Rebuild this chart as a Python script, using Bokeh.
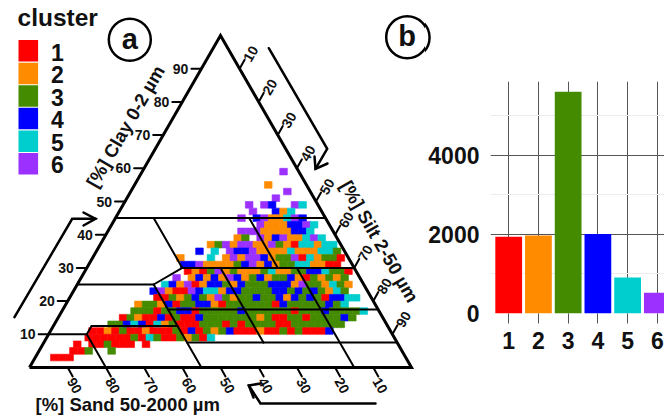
from bokeh.plotting import figure
from bokeh.layouts import row
from bokeh.models import Range1d, ColumnDataSource, FixedTicker, Label
from bokeh.core.properties import value
from bokeh.embed import file_html
from bokeh.resources import INLINE

FONT = "Liberation Sans"
clusters = [1, 2, 3, 4, 5, 6]
cluster_colors = ["#FF0000", "#FF8C00", "#458B00", "#0000FF", "#00CDCD", "#9B30FF"]
cluster_counts = [1937, 1970, 5598, 2005, 910, 523]
ternary_ticks = [10, 20, 30, 40, 50, 60, 70, 80, 90]

# heat cells: clay bin centre, silt bin centre of first cell, cluster per 2 % silt step
row_clay = [59, 55, 53, 51, 49, 47, 45, 43, 41, 39, 37, 35, 33, 31, 29, 27, 25, 23, 21, 19, 17, 15, 13, 11, 9, 7, 5, 3]
row_silt_start = [37, 35, 41, 39, 33, 35, 33, 39, 35, 35, 29, 27, 23, 25, 27, 25, 23, 21, 23, 19, 19, 17, 15, 11, 11, 9, 9, 5]
row_cells = [
    "6",
    "2",
    "6",
    "6",
    "6 . 6 4 . . 6 5",
    "6 . . 4 2 5",
    "6 . 4 6 2 2 5 6 4",
    "6 2 2 2 4 4 6 5",
    "6 6 6 2 2 2 2 4 4 5",
    "2 3 . 6 2 4 6 2 2 5 6 5",
    "2 3 6 2 6 6 2 2 6 3 2 1 5 5 2 5 5",
    "4 . 5 . 6 4 4 6 2 2 2 2 5 2 2 2 5 5 3",
    "2 . . . 5 . 2 6 2 6 6 4 2 3 3 6 1 5 2 3 3 1",
    "4 4 6 2 2 2 2 3 4 6 2 4 2 3 3 5 5 2 2 1 1",
    "1 2 1 3 6 2 3 2 2 2 3 5 2 2 3 3 4 4 5 3 3 1",
    "6 . 2 4 2 4 2 6 4 2 3 4 2 3 3 4 2 1 3 2 3 2 3",
    "5 4 2 6 1 2 4 4 3 2 4 3 3 3 4 4 4 2 6 3 3 2 5 3 2",
    "4 6 2 1 1 6 4 5 5 2 4 4 3 3 3 3 4 4 3 4 3 4 3 2 5 3",
    "1 1 3 2 3 4 3 2 6 3 2 3 3 4 3 3 4 2 4 3 4 3 1 4 4 5 5",
    "2 3 3 2 4 1 3 3 4 4 2 1 3 3 3 3 3 3 1 4 3 3 3 3 3 4 3 5",
    "3 3 3 1 3 3 4 4 1 3 3 3 3 3 4 3 3 3 3 3 3 1 3 3 3 4 3 3 3 3 5",
    "1 3 2 1 1 4 1 3 1 1 4 3 3 3 3 3 3 3 2 3 1 1 3 3 1 3 3 3 3 4 3",
    "3 3 4 5 4 1 5 2 3 1 1 1 3 3 3 1 3 1 3 3 3 3 1 1 3 3 3 3 3 3 3",
    "1 1 2 1 3 1 1 2 1 1 1 3 1 4 1 3 2 3 4 1 1 1 2 1 1 3 1 3 1 1 1 4",
    "1 1 1 1 1 1 3 1 5 3 1 1 3 2 3 1 5",
    "1 . 1 1 3 1 1 1 . 1",
    "1 1 3 . . 3",
    "1 1 1",
]

# texture class boundaries: clay1, sand1, clay2, sand2 (%)
texture_lines = [
    (45, 55, 45, 0), (25, 75, 25, 55), (25, 55, 30, 45), (30, 45, 30, 0),
    (45, 45, 30, 45), (25, 55, 0, 55), (10, 90, 10, 80), (10, 80, 0, 80),
    (10, 80, 12.5, 77.5), (12.5, 77.5, 12.5, 55), (17.5, 55, 17.5, 0),
    (7.5, 55, 7.5, 0), (45, 20, 30, 20), (30, 35, 7.5, 35), (30, 15, 0, 15),
]

# pixel frame of the ternary panel in the window
LEFT_W, HEIGHT = 425, 417
TX0, TY0, SX, SY = 29.0, 367.0, 3.82, 3.32


def X(px):
    return (px - TX0) / SX


def Y(py):
    return (TY0 - py) / SY


def tern_x(clay, silt):
    return silt + clay / 2


p = figure(width=LEFT_W, height=HEIGHT, x_range=Range1d(X(0), X(LEFT_W)), y_range=Range1d(Y(HEIGHT), Y(0)),
           output_backend="svg", toolbar_location=None, x_axis_location=None, y_axis_location=None,
           min_border=0, outline_line_color=None, background_fill_color="white")
p.frame_align = False
p.xgrid.visible = False
p.ygrid.visible = False

# cells
cx, cy, cc = [], [], []
for clay, start, cells in zip(row_clay, row_silt_start, row_cells):
    for i, ch in enumerate(cells.split()):
        if ch != ".":
            cx.append(tern_x(clay, start + 2 * i))
            cy.append(clay)
            cc.append(cluster_colors[int(ch) - 1])
p.rect(x="x", y="y", width=2, height=2, fill_color="c", line_color="c", line_width=0.6,
       source=ColumnDataSource(dict(x=cx, y=cy, c=cc)))


def seg(x0, y0, x1, y1, w=2.0, color="black"):
    p.line([x0, x1], [y0, y1], line_color=color, line_width=w, line_cap="round")


def poly(pts, w=2.5):
    p.line([X(a) for a, b in pts], [Y(b) for a, b in pts], line_color="black", line_width=w,
           line_join="miter", line_cap="round")


def txt(px, py, s, size, angle=0, align="center", bold=True):
    p.text(x=[X(px)], y=[Y(py)], text=[s], text_font=value(FONT), text_font_size=value(f"{size}px"),
           text_font_style="bold" if bold else "normal", text_align=align, text_baseline="middle",
           angle=angle, angle_units="deg", text_color="#111111")


for c1, s1, c2, s2 in texture_lines:
    si1, si2 = 100 - c1 - s1, 100 - c2 - s2
    seg(tern_x(c1, si1), c1, tern_x(c2, si2), c2)

# triangle
p.line([0, 100, 50, 0], [0, 0, 100, 0], line_color="black", line_width=3, line_join="miter")

# ticks and labels
for t in ternary_ticks:
    # clay on the left side
    ex, ey = tern_x(t, 0), t
    seg(ex, ey, ex - 10 / SX, ey)
    txt(TX0 + ex * SX - 13, TY0 - ey * SY, str(t), 14, align="right")
    # silt on the right side
    ex, ey = tern_x(100 - t, t), 100 - t
    seg(ex, ey, ex + 5 / SX, ey + 9 / SY)
    txt(TX0 + ex * SX + 11, TY0 - ey * SY - 15, str(t), 14, angle=60)
    # sand on the base
    ex, ey = tern_x(0, 100 - t), 0
    seg(ex, ey, ex + 5 / SX, ey - 9 / SY)
    txt(TX0 + ex * SX + 7, TY0 - ey * SY + 18, str(t), 14, angle=-60)

txt(125, 126, "[%] Clay 0-2 µm", 18.5, angle=60)
txt(379, 241, "[%] Silt 2-50 µm", 18.5, angle=-60)
txt(35, 404, "[%] Sand 50-2000 µm", 18.5, align="left")

# arrows
poly([(14, 316.7), (71.7, 218.3), (95, 218.3)])
poly([(83, 212), (95, 218.3), (83, 225)])
poly([(268.3, 47.7), (326.7, 148.3), (315, 168.3)])
poly([(327, 163), (315, 168.3), (314, 156)])
poly([(375, 403), (260, 403), (248.3, 385)])
poly([(260, 383), (248.3, 385), (253, 397)])

# legend
txt(17, 17, "cluster", 24.5, align="left")
for i, (lab, col) in enumerate(zip(clusters, cluster_colors)):
    top = 39.3 + 22.6 * i
    p.rect(x=[X(27.8)], y=[Y(top + 11)], width=[19.6 / SX], height=[21.5 / SY], fill_color=col, line_color=None)
    txt(57, 52 + 22.4 * i, str(lab), 23)

# panel letters
for px, py, s in [(129.3, 39.3, "a"), (406.7, 36.7, "b")]:
    p.ellipse(x=[X(px)], y=[Y(py)], width=[42 / SX], height=[42 / SY], fill_color=None, line_color="black", line_width=2.5)
    txt(px, py - 1, s, 29)

# bar panel
RIGHT_W = 664 - LEFT_W
ymax = 232 / 79.2 * 2000
xlo = 1 - (507.3 - 489) / 29.9
q = figure(width=RIGHT_W, height=HEIGHT, x_range=Range1d(xlo, xlo + (664 - 489) / 29.9), y_range=Range1d(0, ymax),
           output_backend="svg", toolbar_location=None, min_border_left=64, min_border_right=0,
           min_border_top=81, min_border_bottom=104, outline_line_color=None, background_fill_color="white")
q.frame_align = False
q.vbar(x="x", top="n", width=0.9, fill_color="c", line_color=None,
       source=ColumnDataSource(dict(x=clusters, n=cluster_counts, c=cluster_colors)))
# the part of the "b" ring that falls on the bar panel's canvas
q.ellipse(x=[1 + (406.7 - 507.3) / 29.9], y=[(312.7 - 36.7) / 79.2 * 2000], width=[42 / 29.9], height=[42 / 79.2 * 2000],
          fill_color=None, line_color="black", line_width=2.5, level="overlay")
q.xaxis.ticker = FixedTicker(ticks=clusters)
q.yaxis.ticker = FixedTicker(ticks=[0, 2000, 4000], minor_ticks=[1000, 3000, 5000])
q.xgrid.grid_line_color = "#555555"
q.ygrid.grid_line_color = "#555555"
q.xgrid.grid_line_width = 1
q.ygrid.grid_line_width = 1
q.ygrid.minor_grid_line_color = "#ececec"
q.ygrid.minor_grid_line_width = 1
for ax in (q.xaxis, q.yaxis):
    ax.axis_line_color = None
    ax.minor_tick_line_color = None
    ax.major_label_text_font = FONT
    ax.major_label_text_font_style = "bold"
    ax.major_label_text_font_size = "23px"
    ax.major_label_text_color = "#111111"
q.yaxis.major_tick_line_color = None
q.yaxis.major_tick_out = 0
q.yaxis.major_tick_in = 0
q.yaxis.major_label_standoff = 7
q.xaxis.major_tick_line_color = "#555555"
q.xaxis.major_tick_out = 10
q.xaxis.major_tick_in = 0
q.xaxis.major_label_standoff = 8
q.add_layout(Label(x=xlo + (460 - 489) / 29.9, y=(312.7 - 91) / 79.2 * 2000, text="n", text_font=FONT,
                   text_font_style="bold", text_font_size="27px", text_align="center", text_baseline="middle",
                   text_color="#111111"))

layout = row(p, q, spacing=0)
open("out.html", "w").write(file_html(layout, INLINE))
